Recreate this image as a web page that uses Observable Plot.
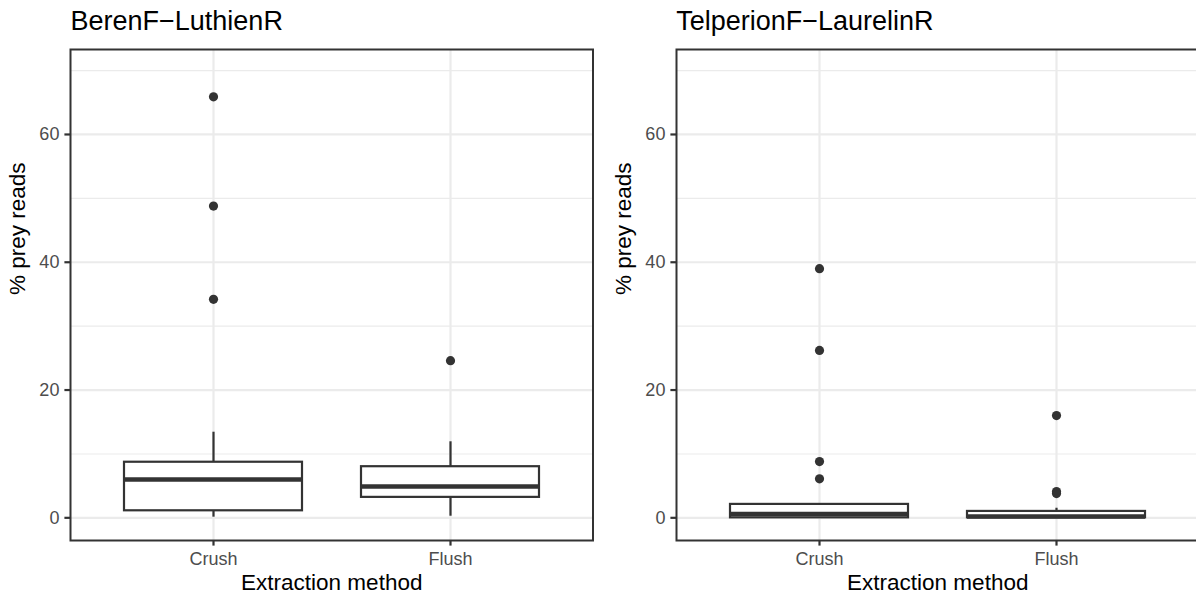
<!DOCTYPE html>
<html><head><meta charset="utf-8">
<script src="https://cdn.jsdelivr.net/npm/d3@7"></script>
<script src="https://cdn.jsdelivr.net/npm/@observablehq/plot@0.6"></script>
<style>
html,body{margin:0;padding:0;background:#fff;width:1196px;height:596px;overflow:hidden;position:relative;font-family:"Liberation Sans",Arial,sans-serif;}
.panel{position:absolute;top:0;width:604px;height:596px;}
.title{position:absolute;left:70.5px;top:8px;font-size:27px;line-height:27px;color:#000;white-space:nowrap;}
.chart{position:absolute;left:0;top:40px;width:604px;}
.chart svg{max-width:none !important;}
</style></head><body>
<script>
// ---- data ----
const panelTitles = ["BerenF\u2212LuthienR", "TelperionF\u2212LaurelinR"];
const methods = ["Crush", "Flush"];
// per panel: [Crush, Flush]
const whiskerLow  = [[0.1, 0.25], [0.0, 0.0]];
const quartile1   = [[1.1, 3.2],  [0.0, 0.0]];
const medians     = [[6.0, 4.9],  [0.6, 0.2]];
const quartile3   = [[8.7, 8.0],  [2.1, 1.0]];
const whiskerHigh = [[13.4, 11.9], [2.1, 1.5]];
const outlierValues = [
  [[65.9, 48.8, 34.2], [24.6]],
  [[39.0, 26.2, 8.8, 6.1], [16.0, 4.1, 3.8]]
];
const majorTicks = [0, 20, 40, 60];
const minorTicks = [10, 30, 50, 70];
const yLabel = "% prey reads";
const xLabel = "Extraction method";

const ink = "#333333";
const grid = "#EBEBEB";

function panel(p) {
  const boxes = methods.map((m, i) => ({
    method: m,
    lo: whiskerLow[p][i], q1: quartile1[p][i], med: medians[p][i],
    q3: quartile3[p][i], hi: whiskerHigh[p][i]
  }));
  const outs = methods.flatMap((m, i) => outlierValues[p][i].map(v => ({method: m, value: v})));
  return Plot.plot({
    width: 604,
    height: 556,
    marginLeft: 70,
    marginRight: 11.5,
    marginTop: 9,
    marginBottom: 56,
    style: {fontFamily: '"Liberation Sans", Arial, sans-serif', background: "white", color: ink},
    x: {type: "band", domain: methods, paddingInner: 0.25, paddingOuter: 0.225, align: 0.5, axis: null},
    y: {domain: [-3.55, 73.3], axis: null},
    marks: [
      Plot.ruleY(minorTicks, {y: d => d, stroke: grid, strokeWidth: 1.1}),
      Plot.ruleY(majorTicks, {y: d => d, stroke: grid, strokeWidth: 2.2}),
      Plot.ruleX(methods, {x: d => d, stroke: grid, strokeWidth: 2.2}),
      Plot.ruleX(boxes, {x: "method", y1: "lo", y2: "q1", stroke: ink, strokeWidth: 2.2}),
      Plot.ruleX(boxes, {x: "method", y1: "q3", y2: "hi", stroke: ink, strokeWidth: 2.2}),
      Plot.barY(boxes, {x: "method", y1: "q1", y2: "q3", fill: "white", stroke: ink, strokeWidth: 2.2}),
      Plot.tickY(boxes, {x: "method", y: "med", stroke: ink, strokeWidth: 4.4}),
      Plot.dot(outs, {x: "method", y: "value", r: 4.6, fill: ink, stroke: null}),
      Plot.frame({stroke: ink, strokeWidth: 2}),
      Plot.axisY(majorTicks, {tickSize: 5.6, tickPadding: 5.5, fontSize: 18, stroke: ink, fill: "#4D4D4D", strokeWidth: 2.2, label: null}),
      Plot.axisX(methods, {tickSize: 5.6, tickPadding: 6.5, fontSize: 18, stroke: ink, fill: "#4D4D4D", strokeWidth: 2.2, label: null}),
      Plot.text([yLabel], {frameAnchor: "left", rotate: -90, dx: -46, lineAnchor: "bottom", fontSize: 22.5, fill: "black"}),
      Plot.text([xLabel], {frameAnchor: "bottom", dy: 49, lineAnchor: "bottom", fontSize: 22.5, fill: "black"})
    ]
  });
}

const offsets = [0, 605.7];
panelTitles.forEach((t, p) => {
  const wrap = document.createElement("div");
  wrap.className = "panel";
  wrap.style.left = offsets[p] + "px";
  const title = document.createElement("div");
  title.className = "title";
  title.textContent = t;
  wrap.appendChild(title);
  const chart = document.createElement("div");
  chart.className = "chart";
  chart.appendChild(panel(p));
  wrap.appendChild(chart);
  document.body.appendChild(wrap);
});
</script>
</body></html>
